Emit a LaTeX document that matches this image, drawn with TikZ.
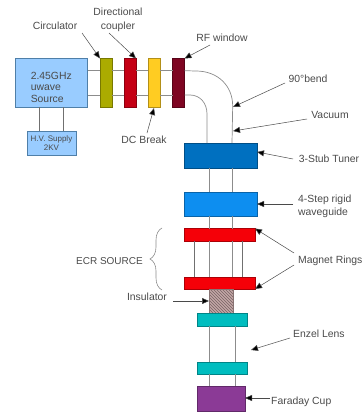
\documentclass[tikz,border=0pt]{standalone}
\usepackage{fontspec}
\setmainfont{Liberation Sans}
\usetikzlibrary{arrows.meta,patterns,decorations.pathreplacing}
\definecolor{txt}{HTML}{4A4A4A}
\definecolor{pipe}{HTML}{8C8C8C}
\definecolor{srcblue}{HTML}{99CCFF}
\definecolor{srcedge}{HTML}{4F7FA8}
\definecolor{olive}{HTML}{ABAB00}
\definecolor{crim}{HTML}{C50015}
\definecolor{gold}{HTML}{FFCC22}
\definecolor{wine}{HTML}{7E0522}
\definecolor{stub}{HTML}{0070C0}
\definecolor{wave}{HTML}{0D8EF0}
\definecolor{ring}{HTML}{F50008}
\definecolor{lens}{HTML}{00BDBF}
\definecolor{cup}{HTML}{8B3A96}
\definecolor{insu}{HTML}{C4A6A6}
\tikzset{
  blk/.style={draw=#1!70!black,line width=0.6pt,inner sep=0pt,outer sep=0pt,fill=#1},
  lbl/.style={text=txt,font=\fontsize{10.4}{13.5}\selectfont,inner sep=0pt,align=center},
  pipeline/.style={draw=pipe,line width=0.7pt},
  thin pipe/.style={draw=pipe!80!black,line width=0.6pt},
  callout/.style={draw=txt,line width=0.5pt,-{Triangle[length=7pt,width=6pt,fill=black]}},
}
\newcommand{\blockat}[6]{\node[blk=#2,minimum width=#5pt-#3pt,minimum height=#6pt-#4pt,anchor=north west] (#1) at (#3,#4) {};}
\begin{document}
\begin{tikzpicture}[x=1pt,y=-1pt]
\useasboundingbox (0,0) rectangle (363,412);
% blocks
\node[blk=srcblue,draw=srcedge,minimum width=72.5pt,minimum height=48.5pt,anchor=north west,text=txt,font=\fontsize{10.4}{11.6}\selectfont,align=left,text width=41pt] (src) at (15,58.5) {\rule{0pt}{16pt}2.45GHz\\uwave\\Source};
\node[blk=srcblue,draw=srcedge,minimum width=49pt,minimum height=24pt,anchor=north west,text=txt,font=\fontsize{8}{8.8}\selectfont,align=center] (hv) at (27,131) {H.V. Supply\\2KV};
\blockat{circ}{olive}{100}{58.5}{112}{107}
\blockat{dirc}{crim}{124}{58.5}{136}{107}
\blockat{dcb}{gold}{148}{58.5}{160}{107}
\blockat{rfw}{wine}{172.5}{58.5}{184.5}{107}
\blockat{tuner}{stub}{184.5}{143}{257}{168}
\blockat{step}{wave}{184.5}{192}{257}{216}
\blockat{ringa}{ring}{184}{228.5}{255}{241}
\blockat{ringb}{ring}{184}{277}{255}{289}
\node[draw=insu!70!black,line width=0.4pt,fill=insu,pattern color=insu!60!black,minimum width=24pt,minimum height=24pt,anchor=north west,inner sep=0pt,outer sep=0pt,
  preaction={fill=insu},pattern=north west lines] (insul) at (209,289) {};
\blockat{lensa}{lens}{197}{313}{247}{326}
\blockat{lensb}{lens}{197}{362}{247}{374}
\blockat{fcup}{cup}{197}{386}{245}{411}
% connectors
\draw[thin pipe] (src.south -| 39,0) -- (hv.north -| 39,0);
\draw[thin pipe] (src.south -| 63,0) -- (hv.north -| 63,0);
\foreach \yy in {70.5,95}{
  \draw[pipeline] (src.east |- 0,\yy) -- (circ.west |- 0,\yy);
  \draw[pipeline] (circ.east |- 0,\yy) -- (dirc.west |- 0,\yy);
  \draw[pipeline] (dirc.east |- 0,\yy) -- (dcb.west |- 0,\yy);
  \draw[pipeline] (dcb.east |- 0,\yy) -- (rfw.west |- 0,\yy);
}
\draw[pipeline] (rfw.east |- 0,70.7) -- (196,71) .. controls (218,71) and (232.7,86) .. (232.7,106) -- (tuner.north -| 232,0);
\draw[pipeline] (rfw.east |- 0,95) -- (190,95) .. controls (200,95) and (207,103) .. (207,114) -- (tuner.north -| 207,0);
\foreach \xx in {209,232}{
  \draw[pipeline] (tuner.south -| \xx,0) -- (step.north -| \xx,0);
  \draw[pipeline] (step.south -| \xx,0) -- (ringa.north -| \xx,0);
  \draw[pipeline] (ringa.south -| \xx,0) -- (ringb.north -| \xx,0);
}
\foreach \xx in {194,242}{
  \draw[thin pipe] (ringa.south -| \xx,0) -- (ringb.north -| \xx,0);
}
\foreach \xx in {209,235}{
  \draw[pipeline] (lensa.south -| \xx,0) -- (lensb.north -| \xx,0);
  \draw[pipeline] (lensb.south -| \xx,0) -- (fcup.north -| \xx,0);
}
% brace
\coordinate (bra) at (162,228);
\coordinate (brb) at (162,290);
\draw[draw=pipe,line width=0.6pt,decorate,decoration={brace,amplitude=12pt,aspect=0.5}] (brb) -- (bra);
% labels
\node[lbl] (lcirc) at (55,26) {Circulator};
\node[lbl] (ldir) at (118,20) {Directional\\coupler};
\node[lbl] (ldc) at (144,139.5) {DC Break};
\node[lbl] (lrf) at (222,38) {RF window};
\node[lbl] (lbend) at (308,79) {90°bend};
\node[lbl] (lvac) at (330,115) {Vacuum};
\node[lbl] (ltun) at (329,159) {3-Stub Tuner};
\node[lbl,align=left,anchor=west] (lstep) at (298,206.5) {4-Step rigid\\waveguide};
\node[lbl,anchor=east,font=\fontsize{10}{13}\selectfont] (lecr) at (143,261) {ECR SOURCE};
\node[lbl,anchor=west] (lmag) at (298,261) {Magnet Rings};
\node[lbl] (lins) at (147,297) {Insulator};
\node[lbl,anchor=west] (lenz) at (293,334) {Enzel Lens};
\node[lbl,anchor=west] (lfar) at (271,402) {Faraday Cup};
% callout anchors
\coordinate (c1) at (82,33);
\coordinate (c2) at (109,33);
\coordinate (c3) at (210,45);
\coordinate (c4) at (147,133);
\coordinate (c5) at (285,83);
\coordinate (c6) at (307,119);
\coordinate (c7) at (293,159);
\coordinate (c8) at (293,204);
\coordinate (c9) at (294,253);
\coordinate (c10) at (294,265);
\coordinate (c11) at (173,301);
\coordinate (c12) at (290,338);
\coordinate (c13) at (270,398);
\coordinate (t12) at (251,350);
\coordinate (t5) at (233,107);
\coordinate (t6) at (233,131);
\draw[callout] (c1) -- (circ.north west);
\draw[callout] (c2) -- (dirc.north east);
\draw[callout] (c3) -- (rfw.north east);
\draw[callout] (c4) -- (dcb.south |- 0,108);
\draw[callout] (c5) -- (t5);
\draw[callout] (c6) -- (t6);
\draw[callout] (c7) -- (tuner.east |- 0,152);
\draw[callout] (c8) -- (step.east |- 0,204);
\draw[callout] (c9) -- (ringa.north east);
\draw[callout] (c10) -- (ringb.south east);
\draw[callout] (c11) -- (insul.west |- 0,301);
\draw[callout] (c12) -- (t12);
\draw[callout] (c13) -- (fcup.east |- 0,398);
\end{tikzpicture}
\end{document}
